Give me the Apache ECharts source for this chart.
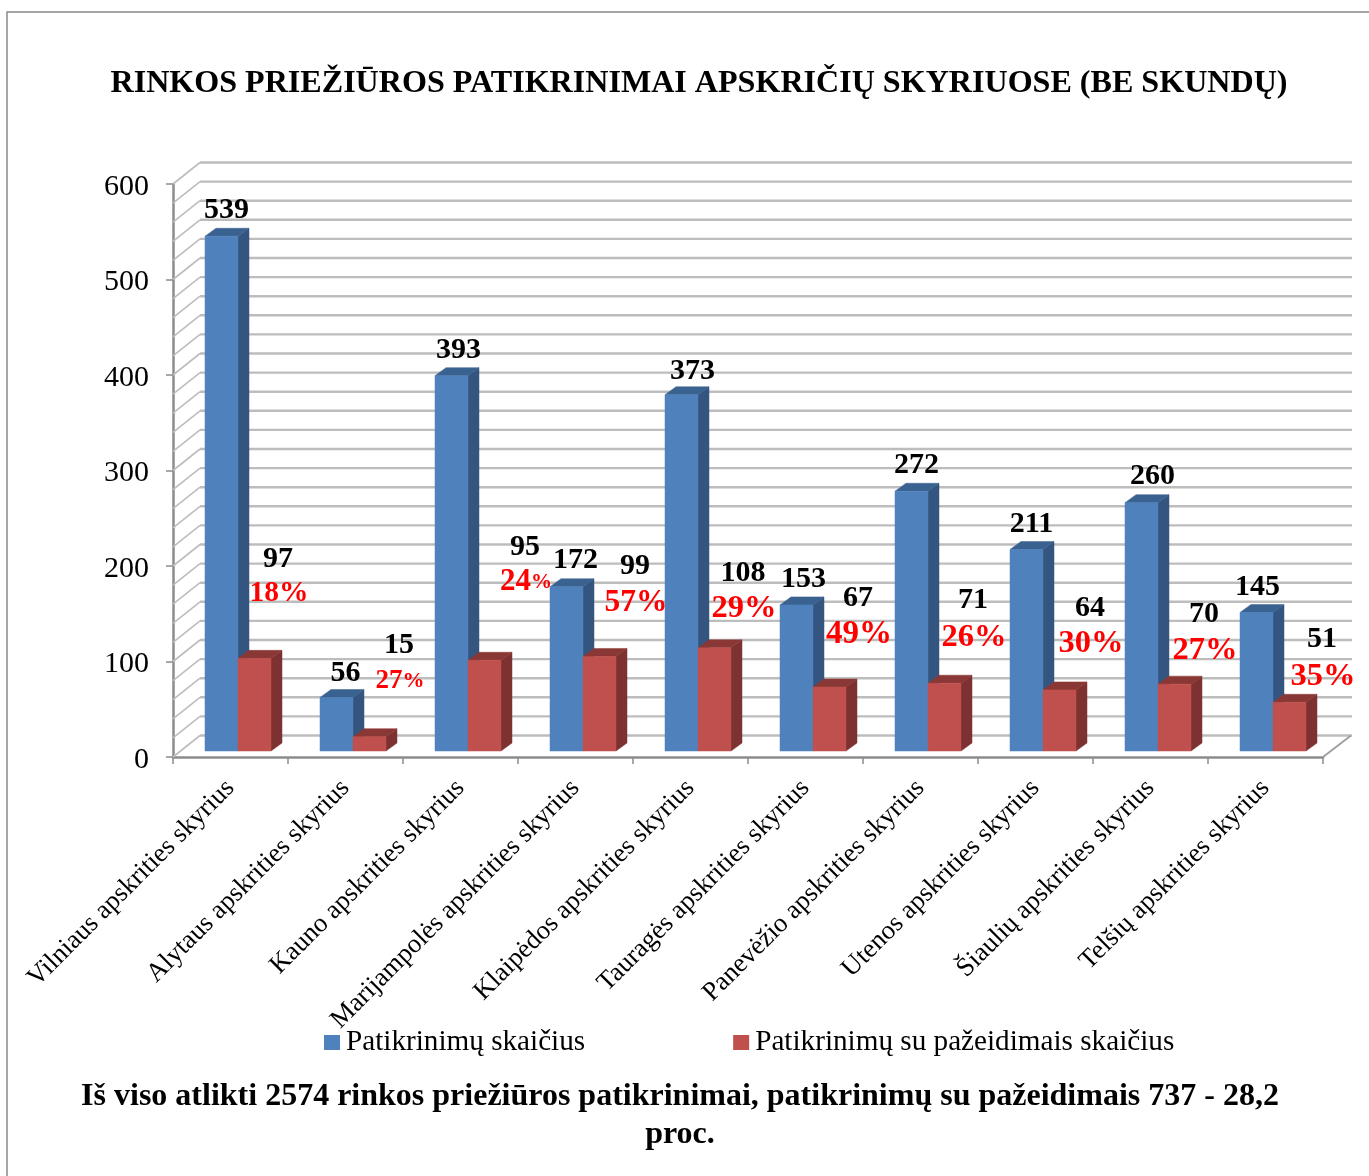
<!DOCTYPE html>
<html><head><meta charset="utf-8">
<script src="https://cdn.jsdelivr.net/npm/echarts@6/dist/echarts.min.js"></script>
<style>html,body{margin:0;padding:0;background:#fff}#c{width:1369px;height:1176px}</style>
</head><body><div id="c"></div>
<script>
const categories = ['Vilniaus apskrities skyrius','Alytaus apskrities skyrius','Kauno apskrities skyrius','Marijampolės apskrities skyrius','Klaipėdos apskrities skyrius','Tauragės apskrities skyrius','Panevėžio apskrities skyrius','Utenos apskrities skyrius','Šiaulių apskrities skyrius','Telšių apskrities skyrius'];
const checks = [539,56,393,172,373,153,272,211,260,145];
const violations = [97,15,95,99,108,67,71,64,70,51];
const percents = ['18%','27%','24%','57%','29%','49%','26%','30%','27%','35%'];
const wallLines = [0,20,40,60,80,100,120,140,160,180,200,220,240,260,280,300,320,340,360,380,400,420,440,460,480,500,520,540,560,580,600];
const seriesNames = ['Patikrinimų skaičius','Patikrinimų su pažeidimais skaičius'];
const titleText = 'RINKOS PRIEŽIŪROS PATIKRINIMAI APSKRIČIŲ SKYRIUOSE (BE SKUNDŲ)';
const footerText = 'Iš viso atlikti 2574 rinkos priežiūros patikrinimai, patikrinimų su pažeidimais 737 - 28,2\nproc.';

// layout only (label nudges, in pixels, as hand-placed in the original)
const blueDx = [5,9,7,9,11,7,5,5,11,1];
const blueDy = [-25.7,-24.5,-25.7,-26,-24,-26,-26,-25.5,-26,-25];
const redDx = [23.5,29.5,40.5,35.5,28.5,28.5,28.5,30.5,29.5,32.5];
const redDy = [-99.5,-91.7,-113,-90.5,-75,-89,-83,-82,-70,-63];
const pctDy = [35,36,35,37,36,36,37,36,36,37];
const pctSize = [29.5,27,31,31.5,32.5,33,32.5,32.5,32.5,32.5];
const pctUnitSize = [29.5,22,21,31.5,32.5,33,32.5,32.5,32.5,32.5];

const FONT = '"Liberation Serif","Times New Roman",serif';
const WALL = {dx:27, dy:-21.5};
const BAR = {w:33, inset:7.5, lift:6, dx:11, dy:-8};
const blueStyle = {front:'#4F81BD', top:'#3A6291', side:'#34557F'};
const redStyle = {front:'#C0504D', top:'#8A3836', side:'#7D3231'};

function barItem(style, dir){
  return function(params, api){
    const c = api.coord([api.value(0), api.value(1)]);
    const z = api.coord([api.value(0), 0]);
    const l = c[0] + BAR.inset + (dir < 0 ? -BAR.w : 0), r = l + BAR.w;
    const b = z[1] - BAR.lift, t = c[1] - BAR.lift;
    const poly = (pts, fill) => ({type:'polygon', shape:{points:pts}, style:{fill, stroke:fill, lineWidth:0.5}});
    return {type:'group', children:[
      poly([[r,b],[r+BAR.dx,b+BAR.dy],[r+BAR.dx,t+BAR.dy],[r,t]], style.side),
      poly([[l,t],[l+BAR.dx,t+BAR.dy],[r+BAR.dx,t+BAR.dy],[r,t]], style.top),
      poly([[l,t],[r,t],[r,b],[l,b]], style.front)
    ]};
  };
}
function wallItem(params, api){
  const cs = params.coordSys, v = api.value(0);
  const y = api.coord([0, v])[1];
  const x0 = cs.x, x1 = cs.x + cs.width;
  const kids = [
    {type:'line', shape:{x1:x0, y1:y, x2:x0+WALL.dx, y2:y+WALL.dy}, style:{stroke:'#BDBDBD', lineWidth:1.6}},
    {type:'line', shape:{x1:x0+WALL.dx, y1:y+WALL.dy, x2:x1+WALL.dx+2, y2:y+WALL.dy}, style:{stroke:'#BDBDBD', lineWidth:2.4}}
  ];
  if (v === 0) kids.push({type:'line', shape:{x1:x1, y1:y, x2:x1+WALL.dx+1, y2:y+WALL.dy}, style:{stroke:'#A0A0A0', lineWidth:2}});
  return {type:'group', children:kids};
}
function labelItem(params, api){
  const i = api.value(0), kind = api.value(2);
  const c = api.coord([i, api.value(1)]);
  const font = (size, color) => ({fontFamily:FONT, fontWeight:'bold', fontSize:size, fill:color, align:'center', verticalAlign:'middle'});
  if (kind === 0) {
    const st = font(30,'#000');
    return {type:'text', x:c[0]+BAR.inset-BAR.w/2+blueDx[i], y:c[1]-BAR.lift+blueDy[i], style:Object.assign(st,{text:String(checks[i])})};
  }
  const x = c[0]+BAR.inset+BAR.w/2+redDx[i], y = c[1]-BAR.lift+redDy[i];
  const digits = percents[i].replace('%','');
  return {type:'group', children:[
    {type:'text', x, y, style:Object.assign(font(30,'#000'),{text:String(violations[i])})},
    {type:'text', x:x+1, y:y+pctDy[i], style:{
      text:'{d|'+digits+'}{u|%}', align:'center', verticalAlign:'middle',
      rich:{
        d:{fontFamily:FONT,fontWeight:'bold',fontSize:pctSize[i],fill:'#FF0000',color:'#FF0000'},
        u:{fontFamily:FONT,fontWeight:'bold',fontSize:pctUnitSize[i],fill:'#FF0000',color:'#FF0000'}
      }}}
  ]};
}

const chart = echarts.init(document.getElementById('c'), null, {width:1369, height:1176});
chart.setOption({
  animation:false,
  backgroundColor:'#fff',
  title:[
    {text:titleText, left:699, top:68, padding:0, textAlign:'center', textStyle:{fontFamily:FONT,fontWeight:'bold',fontSize:32.1,color:'#000'}},
    {text:footerText, left:680, top:1078, padding:0, textAlign:'center', textStyle:{fontFamily:FONT,fontWeight:'bold',fontSize:32,color:'#000',lineHeight:38}}
  ],
  legend:{
    data:seriesNames.map(n=>({name:n, icon:'rect'})),
    left:319, top:1023, itemWidth:16, itemHeight:15, itemGap:148,
    textStyle:{fontFamily:FONT,fontSize:29.2,color:'#000',padding:[0,0,0,1]},
    selectedMode:false
  },
  grid:{left:173, right:46, top:184, bottom:419, containLabel:false},
  xAxis:{
    type:'category', data:categories,
    axisLine:{lineStyle:{color:'#8C8C8C',width:2.5}},
    axisTick:{show:true,length:7,lineStyle:{color:'#8C8C8C',width:1.5}},
    axisLabel:{interval:0, rotate:45, margin:27, fontFamily:FONT, fontSize:26.6, color:'#000', hideOverlap:false}
  },
  yAxis:{
    type:'value', min:0, max:600, interval:100,
    splitLine:{show:false},
    axisLine:{show:true,lineStyle:{color:'#8C8C8C',width:2.5}},
    axisTick:{show:true,length:7,lineStyle:{color:'#8C8C8C',width:1.5}},
    axisLabel:{margin:24, color:'#000', formatter:'{n|{value}}',
      rich:{n:{fontFamily:FONT, fontSize:30, color:'#000', padding:[6,0,0,0]}}}
  },
  graphic:[
    {type:'polyline', silent:true, shape:{points:[[7,1176],[7,12],[1369,12]]}, style:{fill:'none',stroke:'#888',lineWidth:1.5}}
  ],
  series:[
    {type:'custom', name:'wall', silent:true, z:1, data:wallLines.map(v=>[v]), encode:{y:0}, renderItem:wallItem},
    {type:'custom', name:seriesNames[0], silent:true, z:2, itemStyle:{color:blueStyle.front}, data:checks.map((v,i)=>[i,v]), encode:{x:0,y:1}, renderItem:barItem(blueStyle,-1)},
    {type:'custom', name:seriesNames[1], silent:true, z:3, itemStyle:{color:redStyle.front}, data:violations.map((v,i)=>[i,v]), encode:{x:0,y:1}, renderItem:barItem(redStyle,1)},
    {type:'custom', name:'labels', silent:true, z:4, data:[...checks.map((v,i)=>[i,v,0]), ...violations.map((v,i)=>[i,v,1])], encode:{x:0,y:1}, renderItem:labelItem}
  ]
});
</script></body></html>
